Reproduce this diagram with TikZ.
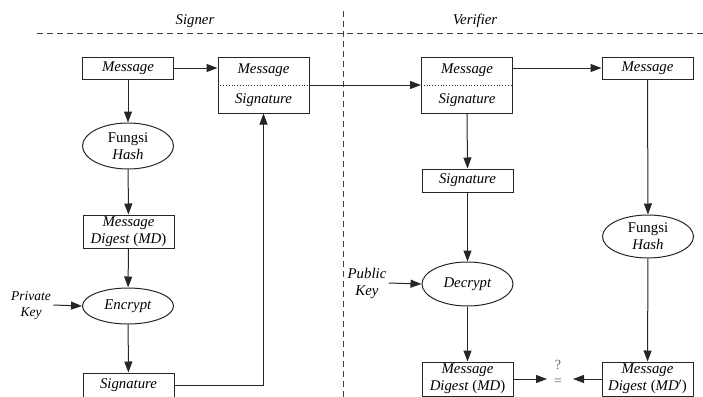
\documentclass[tikz,border=0pt]{standalone}
\usepackage{fontspec}
\setmainfont{Liberation Serif}
\usetikzlibrary{shapes.geometric,arrows.meta}
\begin{document}
\begin{tikzpicture}[x=1pt,y=-1pt,
  every node/.style={font=\fontsize{14.8}{17}\selectfont},
  box/.style={draw,rectangle,minimum width=91pt,minimum height=22pt,inner sep=0pt},
  box2/.style={box,minimum height=34pt,align=center},
  oval/.style={draw,ellipse,minimum width=91pt,minimum height=45pt,inner sep=0pt,align=center},
  keytext/.style={align=center,inner sep=0pt},
  smalltext/.style={font=\fontsize{14}{16}\selectfont,text=black!60,inner sep=0pt},
  arr/.style={-{Triangle[length=11pt,width=8pt]}},
  sepline/.style={dashed,dash pattern=on 6pt off 4pt,line width=1pt,black!75},
  line width=1pt, draw=black!85]
\clip (0,0) rectangle (703,396);
% headers and separators
\node (signer) at (195,21) {\textit{Signer}};
\node (verifier) at (475,21) {\textit{Verifier}};
\coordinate (hl) at (37,34);
\coordinate (hr) at (703,34);
\coordinate (vt) at (343,11);
\coordinate (vb) at (343,400);
\draw[sepline] (hl) -- (hr);
\draw[sepline] (vt) -- (vb);
% signer side
\node[box] (msg) at (128,68) {\textit{Message}};
\node[box,minimum height=56pt] (sbox) at (263.5,85) {};
\node (sboxm) at (263.5,70) {\textit{Message}};
\node (sboxs) at (263.5,100.5) {\textit{Signature}};
\draw[dotted,line width=0.8pt] (sbox.west) -- (sbox.east);
\node[oval,minimum height=46pt] (hash) at (128,146) {Fungsi\\\textit{Hash}};
\node[box2,minimum height=33pt] (md) at (128.5,231.5) {\textit{Message}\\\textit{Digest} (\textit{MD})};
\node[oval,minimum height=36pt] (enc) at (128,306) {\textit{Encrypt}};
\node[keytext,font=\fontsize{13.5}{16}\selectfont] (pk) at (31,305) {\textit{Private}\\\textit{Key}};
\node[box,minimum height=24pt] (sig) at (128.5,385) {\textit{Signature}};
\draw[arr] (msg.east) -- (msg.east -| sbox.west);
\draw[arr] (msg) -- (hash);
\draw[arr] (hash) -- (md);
\draw[arr] (md) -- (enc);
\draw[arr] (pk.east) ++(2,0) -- (enc.west);
\draw[arr] (enc) -- (sig);
\draw[arr] (sig.east) -| (sbox.south);
% verifier side
\node[box,minimum height=56pt] (vbox) at (467,85) {};
\node (vboxm) at (467,70) {\textit{Message}};
\node (vboxs) at (467,100.5) {\textit{Signature}};
\draw[dotted,line width=0.8pt] (vbox.west) -- (vbox.east);
\node[box] (vmsg) at (647.5,68) {\textit{Message}};
\node[box,minimum height=23pt] (vsig) at (467.5,180.5) {\textit{Signature}};
\node[oval,minimum height=44pt] (dec) at (467.5,284) {\textit{Decrypt}};
\node[keytext] (pub) at (367,283) {\textit{Public}\\\textit{Key}};
\node[box2] (lmd) at (467.5,379) {\textit{Message}\\\textit{Digest} (\textit{MD})};
\node[oval,minimum height=43pt] (vhash) at (648,236.5) {Fungsi\\\textit{Hash}};
\node[box2] (rmd) at (647.5,379) {\textit{Message}\\\textit{Digest} (\textit{MD}$'$)};
\node[smalltext] (q) at (558,365) {?};
\node[smalltext] (eq) at (558,382) {=};
\coordinate (eqL) at (547,379);
\coordinate (eqR) at (573,379);
\draw[arr] (sbox.east) -- (vbox.west);
\draw[arr] (vbox.east |- vmsg) -- (vmsg.west);
\draw[arr] (vbox.south) -- (vsig.north);
\draw[arr] (vsig) -- (dec);
\draw[arr] (pub.east) ++(2,0) -- (dec.west);
\draw[arr] (dec) -- (lmd);
\draw[arr] (vmsg) -- (vhash);
\draw[arr] (vhash) -- (rmd);
\draw[arr] (lmd.east) -- (eqL);
\draw[arr] (rmd.west) -- (eqR);
\end{tikzpicture}
\end{document}
